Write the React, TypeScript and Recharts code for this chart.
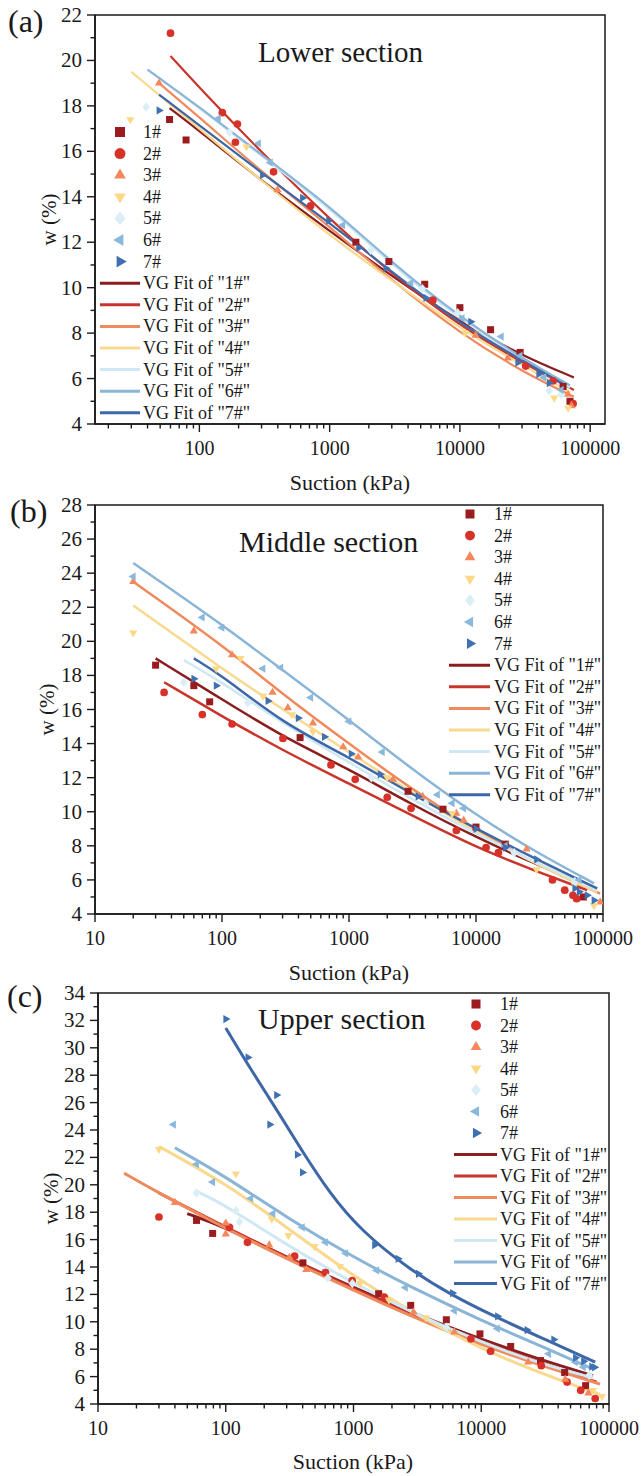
import React from 'react';
import { ComposedChart, Scatter, Line, XAxis, YAxis, ReferenceArea } from 'recharts';

type Pt = [number, number];

const SERIF = 'Liberation Serif, Tinos, Times New Roman, Times, DejaVu Serif, serif';
const INK = '#1a1a1a';

const SAMPLES = ['1#', '2#', '3#', '4#', '5#', '6#', '7#'];
const MARKER_COLORS = ['#9b1c1f', '#d7312a', '#f4875c', '#fcd887', '#d9eef7', '#8ab8db', '#3f70b2'];
const LINE_COLORS = ['#8a1d1d', '#c8352c', '#ef8a5d', '#f8d98e', '#cfe8f3', '#8bb5d7', '#3d67a6'];
const SHAPES = ['square', 'circle', 'up', 'down', 'diamond', 'left', 'right'];

const DECADES = [10, 100, 1000, 10000, 100000];
const LOG_STEPS = [1, 2, 3, 4, 5, 6, 7, 8, 9];

// ---- (a) Lower section: measured points [suction kPa, w %]
const lowerPts1: Pt[] = [[59, 17.4], [79, 16.5], [1590, 12.0], [2850, 11.15], [5370, 10.15], [10000, 9.12], [17200, 8.15], [29000, 7.15], [62000, 5.65], [70000, 5.0]];
const lowerPts2: Pt[] = [[60, 21.2], [150, 17.7], [196, 17.2], [189, 16.4], [371, 15.1], [714, 13.6], [6200, 9.45], [32000, 6.55], [52000, 5.9], [74000, 4.9]];
const lowerPts3: Pt[] = [[49, 19.0], [398, 14.3], [13200, 7.9], [23300, 6.9], [67700, 5.3], [72000, 4.8]];
const lowerPts4: Pt[] = [[29.5, 17.4], [230, 16.2], [11000, 8.0], [53000, 5.15], [67700, 4.7]];
const lowerPts5: Pt[] = [[39, 17.95], [170, 16.85], [2065, 11.65], [5160, 9.95], [9600, 8.9], [48500, 5.45], [60000, 5.3]];
const lowerPts6: Pt[] = [[140, 17.45], [284, 16.35], [351, 15.5], [1260, 12.75], [4200, 10.2], [10400, 8.65], [20800, 7.85], [29000, 7.0], [44000, 6.05], [60000, 5.5]];
const lowerPts7: Pt[] = [[49, 17.8], [305, 14.95], [619, 13.95], [982, 12.95], [1670, 11.75], [2700, 10.85], [5480, 9.55], [12100, 8.5], [27800, 6.7], [40300, 6.2], [48500, 5.8]];

// VG fit curves
const lowerFit1: Pt[] = [[59, 17.9], [100, 16.9], [300, 14.7], [1000, 12.5], [3000, 10.5], [10000, 8.5], [30000, 7.0], [75000, 6.05]];
const lowerFit2: Pt[] = [[60, 20.2], [100, 18.8], [300, 15.95], [1000, 13.0], [3000, 10.6], [10000, 8.3], [30000, 6.7], [75000, 5.5]];
const lowerFit3: Pt[] = [[49, 19.0], [100, 17.5], [300, 15.1], [1000, 12.7], [3000, 10.3], [10000, 8.0], [30000, 6.3], [75000, 5.2]];
const lowerFit4: Pt[] = [[30, 19.5], [100, 17.0], [300, 14.7], [1000, 12.3], [3000, 10.3], [10000, 8.2], [30000, 6.6], [70000, 5.4]];
const lowerFit5: Pt[] = [[40, 19.6], [100, 17.9], [300, 15.8], [1000, 13.5], [3000, 11.0], [10000, 8.6], [30000, 6.8], [70000, 5.6]];
const lowerFit6: Pt[] = [[40, 19.6], [100, 17.95], [300, 15.85], [1000, 13.6], [3000, 11.1], [10000, 8.7], [30000, 6.9], [70000, 5.7]];
const lowerFit7: Pt[] = [[49, 18.5], [100, 17.15], [300, 15.05], [1000, 12.85], [3000, 10.7], [10000, 8.4], [30000, 6.8], [65000, 5.7]];

// ---- (b) Middle section
const middlePts1: Pt[] = [[30, 18.6], [60, 17.4], [80, 16.45], [412, 14.35], [2920, 11.2], [5500, 10.15], [10000, 9.1], [17000, 8.1], [70000, 5.0]];
const middlePts2: Pt[] = [[35, 17.0], [70, 15.7], [120, 15.15], [302, 14.3], [721, 12.75], [1120, 11.9], [2000, 10.85], [3080, 10.2], [7000, 8.9], [12000, 7.9], [15000, 7.6], [40000, 6.0], [50000, 5.4], [58000, 5.1], [62000, 4.9]];
const middlePts3: Pt[] = [[20, 23.5], [60, 20.6], [120, 19.2], [250, 17.0], [330, 16.1], [520, 15.2], [900, 13.8], [1180, 13.2], [2220, 11.9], [3800, 10.9], [7000, 9.9], [8000, 9.5], [25000, 7.8], [95000, 4.7]];
const middlePts4: Pt[] = [[20, 20.5], [90, 18.4], [140, 19.0], [210, 16.8], [355, 15.7], [520, 14.7], [2000, 12.0], [6500, 9.9], [30000, 6.6], [60000, 5.7], [85000, 4.5]];
const middlePts5: Pt[] = [[50, 17.6], [160, 16.4], [1500, 12.0], [4000, 10.5], [20000, 7.6], [60000, 5.9]];
const middlePts6: Pt[] = [[20, 23.8], [70, 21.4], [100, 20.8], [210, 18.4], [290, 18.45], [500, 16.7], [1000, 15.3], [1830, 13.5], [4970, 11.0], [6500, 10.5], [8000, 10.2], [17000, 8.0], [65000, 6.0]];
const middlePts7: Pt[] = [[60, 17.8], [90, 17.4], [230, 16.5], [398, 15.5], [640, 14.4], [1040, 13.4], [1760, 12.2], [3500, 10.9], [10000, 9.0], [17000, 7.9], [30000, 7.2], [60000, 5.5], [65000, 5.3], [75000, 5.1], [85000, 4.8]];

const middleFit1: Pt[] = [[30, 19.0], [100, 16.6], [300, 14.4], [1000, 12.5], [3000, 10.5], [10000, 8.5], [30000, 6.9], [80000, 5.6]];
const middleFit2: Pt[] = [[35, 17.6], [100, 15.6], [300, 13.6], [1000, 11.65], [3000, 9.85], [10000, 7.9], [30000, 6.5], [75000, 5.4]];
const middleFit3: Pt[] = [[20, 23.5], [100, 19.8], [300, 16.9], [1000, 14.0], [3000, 11.4], [10000, 8.9], [30000, 6.9], [95000, 5.2]];
const middleFit4: Pt[] = [[20, 22.1], [100, 18.4], [300, 16.0], [1000, 13.5], [3000, 11.2], [10000, 8.8], [30000, 6.9], [90000, 5.3]];
const middleFit5: Pt[] = [[50, 18.9], [100, 17.6], [300, 15.2], [1000, 12.9], [3000, 10.8], [10000, 8.7], [30000, 7.0], [90000, 5.4]];
const middleFit6: Pt[] = [[20, 24.6], [100, 21.0], [300, 18.3], [1000, 15.4], [3000, 12.6], [10000, 9.8], [30000, 7.6], [85000, 5.8]];
const middleFit7: Pt[] = [[60, 19.0], [100, 18.0], [300, 15.2], [1000, 13.2], [3000, 11.1], [10000, 9.0], [30000, 7.2], [90000, 5.5]];

// ---- (c) Upper section
const upperPts1: Pt[] = [[59, 17.4], [79, 16.45], [402, 14.3], [1573, 12.05], [2805, 11.2], [5330, 10.15], [9770, 9.12], [17000, 8.2], [29100, 7.17], [45000, 6.3], [65600, 5.34]];
const upperPts2: Pt[] = [[30, 17.65], [107, 16.9], [148, 15.8], [346, 14.8], [603, 13.6], [977, 13.0], [1740, 11.8], [8300, 8.76], [11830, 7.85], [29500, 6.8], [47000, 5.6], [60000, 5.0], [78000, 4.4]];
const upperPts3: Pt[] = [[40, 18.7], [100, 17.2], [100, 16.4], [219, 15.6], [315, 14.7], [427, 13.8], [2950, 10.7], [6170, 9.25], [23300, 7.05], [45400, 5.8], [69000, 4.8]];
const upperPts4: Pt[] = [[30, 22.6], [120, 20.8], [229, 17.5], [309, 16.3], [494, 15.5], [782, 14.05], [1130, 12.8], [1895, 11.6], [3680, 10.3], [75000, 5.0], [88000, 4.55]];
const upperPts5: Pt[] = [[59, 19.4], [120, 18.1], [128, 17.3], [630, 13.2], [980, 12.8], [5330, 9.6], [70000, 6.1]];
const upperPts6: Pt[] = [[39, 24.4], [59, 21.5], [79, 20.2], [157, 19.0], [234, 17.9], [398, 16.9], [603, 15.8], [870, 15.0], [1520, 13.75], [2550, 12.5], [6170, 10.8], [13400, 9.5], [33700, 7.66], [54600, 7.05], [63000, 6.7]];
const upperPts7: Pt[] = [[100, 32.1], [149, 29.3], [221, 24.4], [250, 26.55], [363, 22.2], [398, 20.9], [1462, 15.6], [2230, 14.6], [3220, 13.5], [5950, 12.1], [13400, 10.4], [22800, 9.4], [36900, 8.7], [54600, 7.37], [63200, 7.12], [73200, 6.73], [77000, 6.68]];

const upperFit1: Pt[] = [[50, 17.9], [100, 16.9], [300, 14.7], [1000, 12.5], [3000, 10.6], [10000, 8.7], [30000, 7.2], [75000, 6.07]];
const upperFit2: Pt[] = [[30, 19.4], [100, 16.9], [300, 14.7], [1000, 12.4], [3000, 10.4], [10000, 8.5], [30000, 7.0], [80000, 5.6]];
const upperFit3: Pt[] = [[16, 20.85], [30, 19.4], [100, 16.8], [300, 14.6], [1000, 12.3], [3000, 10.3], [10000, 8.3], [30000, 6.8], [85000, 5.45]];
const upperFit4: Pt[] = [[30, 22.8], [100, 20.1], [300, 16.9], [1000, 13.3], [3000, 10.6], [10000, 8.0], [30000, 6.2], [85000, 4.7]];
const upperFit5: Pt[] = [[60, 19.5], [100, 18.5], [300, 15.6], [1000, 12.8], [3000, 10.6], [10000, 8.5], [30000, 6.9], [75000, 5.9]];
const upperFit6: Pt[] = [[40, 22.7], [100, 20.6], [300, 17.6], [1000, 14.7], [3000, 12.4], [10000, 10.1], [30000, 8.2], [75000, 6.55]];
const upperFit7: Pt[] = [[100, 31.45], [160, 28.3], [250, 25.5], [400, 22.4], [650, 19.4], [1130, 16.7], [2750, 13.8], [6000, 11.9], [12000, 10.5], [30000, 8.8], [78000, 7.05]];

const lowerPts = [lowerPts1, lowerPts2, lowerPts3, lowerPts4, lowerPts5, lowerPts6, lowerPts7];
const lowerFits = [lowerFit1, lowerFit2, lowerFit3, lowerFit4, lowerFit5, lowerFit6, lowerFit7];
const middlePts = [middlePts1, middlePts2, middlePts3, middlePts4, middlePts5, middlePts6, middlePts7];
const middleFits = [middleFit1, middleFit2, middleFit3, middleFit4, middleFit5, middleFit6, middleFit7];
const upperPts = [upperPts1, upperPts2, upperPts3, upperPts4, upperPts5, upperPts6, upperPts7];
const upperFits = [upperFit1, upperFit2, upperFit3, upperFit4, upperFit5, upperFit6, upperFit7];

const Y_AXIS_W = 60;
const X_AXIS_H = 30;

const toXY = (pts: Pt[]) => pts.map(([x, y]) => ({ x, y }));

const logTicks = ([lo, hi]: [number, number]) => {
  const out: number[] = [];
  DECADES.forEach(d => LOG_STEPS.forEach(m => {
    const v = d * m;
    if (v >= lo && v <= hi) out.push(v);
  }));
  return out;
};

const intTicks = ([lo, hi]: [number, number]) => {
  const out: number[] = [];
  for (let v = lo; v <= hi; v++) out.push(v);
  return out;
};

const Marker = ({ kind, cx, cy, size, fill }: { kind: string; cx: number; cy: number; size: number; fill: string }) => {
  const r = size * 0.68;
  const h = r * 0.866;
  switch (kind) {
    case 'square':
      return <rect x={cx - size / 2} y={cy - size / 2} width={size} height={size} fill={fill} />;
    case 'circle':
      return <circle cx={cx} cy={cy} r={size * 0.55} fill={fill} />;
    case 'up':
      return <polygon points={`${cx},${cy - r} ${cx - h},${cy + r / 2} ${cx + h},${cy + r / 2}`} fill={fill} />;
    case 'down':
      return <polygon points={`${cx},${cy + r} ${cx - h},${cy - r / 2} ${cx + h},${cy - r / 2}`} fill={fill} />;
    case 'left':
      return <polygon points={`${cx - r},${cy} ${cx + r / 2},${cy - h} ${cx + r / 2},${cy + h}`} fill={fill} />;
    case 'right':
      return <polygon points={`${cx + r},${cy} ${cx - r / 2},${cy - h} ${cx - r / 2},${cy + h}`} fill={fill} />;
    default:
      return <polygon points={`${cx},${cy - r} ${cx + r * 0.8},${cy} ${cx},${cy + r} ${cx - r * 0.8},${cy}`} fill={fill} />;
  }
};

const renderXTick = (props: any) => {
  const { x, y, payload } = props;
  const v = payload.value;
  const major = DECADES.includes(v);
  return (
    <g>
      <line x1={x} x2={x} y1={y} y2={y + (major ? 8 : 4.5)} stroke={INK} strokeWidth={1.4} />
      {major && (
        <text x={x} y={y + 31} textAnchor="middle" fontSize={20} style={{ fontFamily: SERIF }} fill={INK}>{v}</text>
      )}
    </g>
  );
};

const renderYTick = (props: any) => {
  const { x, y, payload } = props;
  const major = payload.value % 2 === 0;
  return (
    <g>
      <line x1={x} x2={x - (major ? 8 : 4.5)} y1={y} y2={y} stroke={INK} strokeWidth={1.4} />
      {major && (
        <text x={x - 13} y={y + 7} textAnchor="end" fontSize={21} style={{ fontFamily: SERIF }} fill={INK}>{payload.value}</text>
      )}
    </g>
  );
};

interface PanelProps {
  top: number;
  height: number;
  plot: { left: number; right: number; top: number; bottom: number };
  xDomain: [number, number];
  yDomain: [number, number];
  points: Pt[][];
  fits: Pt[][];
  lineWidth: number;
  markerSize: number;
}

const Panel = (p: PanelProps) => {
  const margin = {
    top: p.plot.top - p.top,
    left: p.plot.left - Y_AXIS_W,
    right: 642 - p.plot.right,
    bottom: p.height - (p.plot.bottom - p.top) - X_AXIS_H,
  };
  return (
    <div style={{ position: 'absolute', left: 0, top: p.top }}>
      <ComposedChart width={642} height={p.height} margin={margin} style={{ overflow: 'visible' }}>
        <XAxis
          dataKey="x"
          type="number"
          scale="log"
          domain={p.xDomain}
          allowDataOverflow
          ticks={logTicks(p.xDomain)}
          interval={0}
          tickSize={0}
          tickMargin={0}
          tickLine={false}
          tick={renderXTick}
          height={X_AXIS_H}
          axisLine={{ stroke: INK, strokeWidth: 1.6 }}
        />
        <YAxis
          dataKey="y"
          type="number"
          domain={p.yDomain}
          allowDataOverflow
          ticks={intTicks(p.yDomain)}
          interval={0}
          tickSize={0}
          tickMargin={0}
          tickLine={false}
          tick={renderYTick}
          width={Y_AXIS_W}
          axisLine={{ stroke: INK, strokeWidth: 1.6 }}
        />
        <ReferenceArea
          x1={p.xDomain[0]}
          x2={p.xDomain[1]}
          y1={p.yDomain[0]}
          y2={p.yDomain[1]}
          fill="none"
          stroke={INK}
          strokeWidth={1.5}
          ifOverflow="visible"
        />
        {p.points.map((pts, i) => (
          <Scatter
            key={`pts-${i}`}
            name={SAMPLES[i]}
            data={toXY(pts)}
            dataKey="y"
            fill={MARKER_COLORS[i]}
            shape={(sp: any) => <Marker kind={SHAPES[i]} cx={sp.cx} cy={sp.cy} size={p.markerSize} fill={MARKER_COLORS[i]} />}
            isAnimationActive={false}
          />
        ))}
        {p.fits.map((f, i) => (
          <Line
            key={`fit-${i}`}
            name={`VG Fit of "${SAMPLES[i]}"`}
            data={toXY(f)}
            dataKey="y"
            type="basis"
            stroke={LINE_COLORS[i]}
            strokeWidth={p.lineWidth}
            dot={false}
            activeDot={false}
            isAnimationActive={false}
          />
        ))}
      </ComposedChart>
    </div>
  );
};

interface LegendProps {
  markerX: number;
  textX: number;
  lineX1: number;
  lineX2: number;
  firstY: number;
  step: number;
  markerSize: number;
}

const LegendBlock = ({ markerX, textX, lineX1, lineX2, firstY, step, markerSize }: LegendProps) => (
  <g>
    {SAMPLES.map((s, i) => (
      <g key={`lm-${i}`}>
        <Marker kind={SHAPES[i]} cx={markerX} cy={firstY + i * step} size={markerSize} fill={MARKER_COLORS[i]} />
        <text x={textX} y={firstY + i * step + 6} fontSize={18} fill={INK}>{s}</text>
      </g>
    ))}
    {SAMPLES.map((s, i) => {
      const y = firstY + (i + 7) * step;
      return (
        <g key={`ll-${i}`}>
          <line x1={lineX1} x2={lineX2} y1={y} y2={y} stroke={LINE_COLORS[i]} strokeWidth={3} />
          <text x={textX} y={y + 6} fontSize={18} fill={INK}>{`VG Fit of "${s}"`}</text>
        </g>
      );
    })}
  </g>
);

const AxisTitles = ({ yx, yy, xx, xy }: { yx: number; yy: number; xx: number; xy: number }) => (
  <g fill={INK}>
    <text x={yx} y={yy} fontSize={21} textAnchor="middle" transform={`rotate(-90 ${yx} ${yy})`}>w (%)</text>
    <text x={xx} y={xy} fontSize={22} textAnchor="middle">Suction (kPa)</text>
  </g>
);

export default function App() {
  return (
    <div style={{ position: 'absolute', left: 0, top: 0, width: 642, height: 1476, background: '#fff', overflow: 'hidden', fontFamily: SERIF }}>
      <Panel
        top={0}
        height={495}
        plot={{ left: 95, right: 605, top: 15, bottom: 424 }}
        xDomain={[15.8, 130000]}
        yDomain={[4, 22]}
        points={lowerPts}
        fits={lowerFits}
        lineWidth={2.2}
        markerSize={7}
      />
      <Panel
        top={480}
        height={505}
        plot={{ left: 95, right: 603, top: 505, bottom: 914 }}
        xDomain={[10, 100000]}
        yDomain={[4, 28]}
        points={middlePts}
        fits={middleFits}
        lineWidth={2.5}
        markerSize={7}
      />
      <Panel
        top={972}
        height={504}
        plot={{ left: 98, right: 609, top: 993, bottom: 1404 }}
        xDomain={[10, 100000]}
        yDomain={[4, 34]}
        points={upperPts}
        fits={upperFits}
        lineWidth={3}
        markerSize={7}
      />
      <svg width={642} height={1476} style={{ position: 'absolute', left: 0, top: 0, pointerEvents: 'none', fontFamily: SERIF }}>
        <g fill={INK}>
          <text x={8} y={32} fontSize={32}>(a)</text>
          <text x={258} y={62} fontSize={29}>Lower section</text>
          <text x={10} y={522} fontSize={32}>(b)</text>
          <text x={239} y={552} fontSize={30}>Middle section</text>
          <text x={7} y={1007} fontSize={32}>(c)</text>
          <text x={258} y={1029} fontSize={30}>Upper section</text>
        </g>
        <AxisTitles yx={56} yy={219.5} xx={350} xy={490} />
        <AxisTitles yx={54} yy={709.5} xx={349} xy={980} />
        <AxisTitles yx={58} yy={1198.5} xx={353} xy={1469} />
        <LegendBlock markerX={120} textX={143} lineX1={100} lineX2={140} firstY={132} step={21.6} markerSize={10} />
        <LegendBlock markerX={470} textX={494} lineX1={449} lineX2={490} firstY={514} step={21.6} markerSize={9} />
        <LegendBlock markerX={476} textX={500} lineX1={454} lineX2={497} firstY={1004} step={21.5} markerSize={9} />
      </svg>
    </div>
  );
}
